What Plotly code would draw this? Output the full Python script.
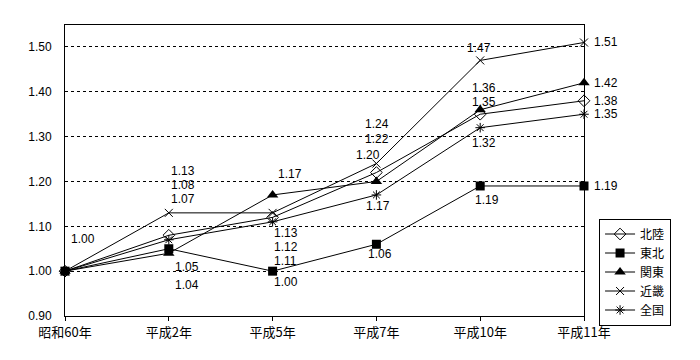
import plotly.graph_objects as go

categories = ["昭和60年", "平成2年", "平成5年", "平成7年", "平成10年", "平成11年"]
hokuriku = [1.00, 1.08, 1.12, 1.22, 1.35, 1.38]
tohoku = [1.00, 1.05, 1.00, 1.06, 1.19, 1.19]
kanto = [1.00, 1.04, 1.17, 1.20, 1.36, 1.42]
kinki = [1.00, 1.13, 1.13, 1.24, 1.47, 1.51]
zenkoku = [1.00, 1.07, 1.11, 1.17, 1.32, 1.35]
y_ticks = [0.90, 1.00, 1.10, 1.20, 1.30, 1.40, 1.50]

# label pixel offsets (dx, dy) per series per category; None = no label
R = "right"
offsets = {
    "北陸": [None, (14, 50), (13, -30), (1, 34), (4, 12), R],
    "東北": [None, (18, -18), (13, -11), (4, -10), (7, -14), R],
    "関東": [None, (18, -32), (17, 21), (-8, 26), (4, 22), R],
    "近畿": [None, (14, 42), (13, -20), (1, 40), (-1, 12), R],
    "全国": [(18, 32), (14, 41), (13, -39), (2, -11), (4, -15), R],
}

series = [
    ("北陸", hokuriku, dict(symbol="diamond-open", size=9, color="black", line=dict(width=1, color="black"))),
    ("東北", tohoku, dict(symbol="square", size=9, color="black")),
    ("関東", kanto, dict(symbol="triangle-up", size=10, color="black")),
    ("近畿", kinki, dict(symbol="x-thin-open", size=8, color="black", line=dict(width=1, color="black"))),
    ("全国", zenkoku, dict(symbol="asterisk-open", size=8, color="black", line=dict(width=1, color="black"))),
]

FONT = "Liberation Sans, Noto Sans CJK JP"
fig = go.Figure()
annotations = []
for name, vals, mk in series:
    fig.add_trace(go.Scatter(
        x=categories, y=vals, name=name, mode="lines+markers",
        line=dict(color="black", width=1), marker=mk, cliponaxis=False,
    ))
    for i, (v, off) in enumerate(zip(vals, offsets[name])):
        if off is None:
            continue
        if off == R:
            annotations.append(dict(x=i, y=v, xref="x", yref="y", text=f"{v:.2f}",
                                    showarrow=False, xanchor="left", xshift=8,
                                    font=dict(size=12, color="black", family=FONT)))
        else:
            annotations.append(dict(x=i, y=v, xref="x", yref="y", text=f"{v:.2f}",
                                    showarrow=False, xshift=off[0], yshift=off[1],
                                    font=dict(size=12, color="black", family=FONT)))

fig.update_layout(
    width=700, height=360,
    margin=dict(l=65, r=116, t=25, b=44),
    paper_bgcolor="white", plot_bgcolor="white",
    font=dict(family=FONT, size=12, color="black"),
    annotations=annotations,
    legend=dict(x=1.029, y=0.335, xanchor="left", yanchor="top",
                bordercolor="black", borderwidth=1, bgcolor="white",
                font=dict(size=12, family="Noto Sans CJK JP"), tracegroupgap=0, itemwidth=30),
    xaxis=dict(type="category", range=[0, 5], showgrid=False, showline=True,
               linecolor="black", linewidth=1, mirror=True, ticks="outside",
               ticklen=4, tickcolor="black", zeroline=False,
               tickfont=dict(size=13, family="Noto Sans CJK JP")),
    yaxis=dict(range=[0.9, 1.549], tickvals=y_ticks, ticktext=[f"{t:.2f}" for t in y_ticks],
               showgrid=True, gridcolor="black", griddash="dot", gridwidth=1,
               showline=True, linecolor="black", linewidth=1, mirror=True,
               ticks="", zeroline=False, ticklabelstandoff=10,
               tickfont=dict(size=12, family=FONT)),
)
fig.write_html("out.html")
